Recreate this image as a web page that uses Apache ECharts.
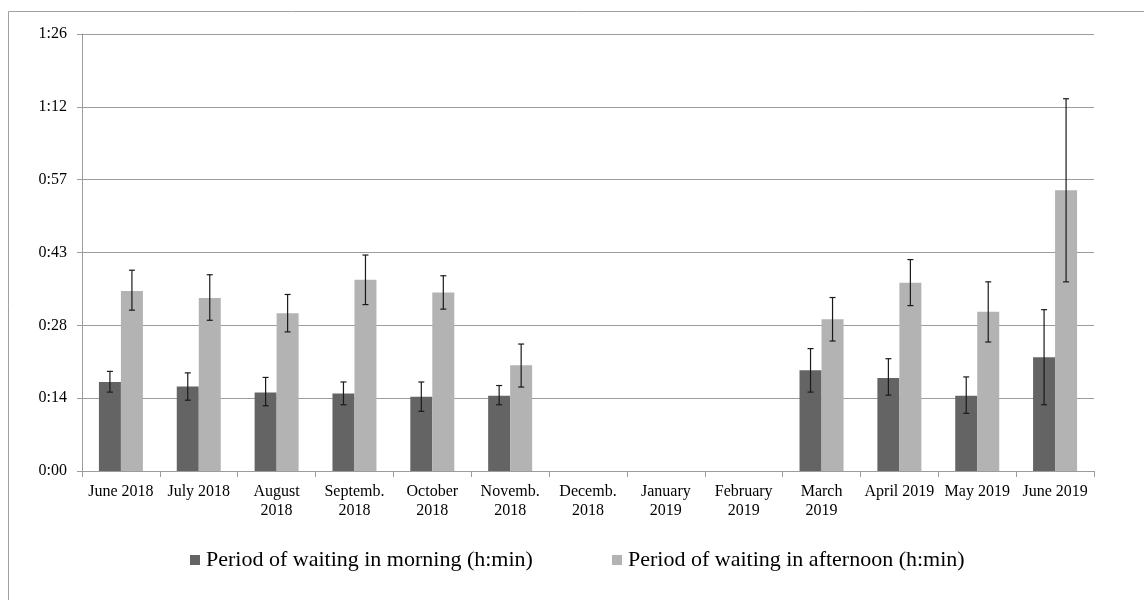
<!DOCTYPE html>
<html>
<head>
<meta charset="utf-8">
<script src="https://cdn.jsdelivr.net/npm/echarts@6/dist/echarts.min.js"></script>
<style>
html,body{margin:0;padding:0;background:#fff;}
#chart{width:1144px;height:600px;}
</style>
</head>
<body>
<div id="chart"></div>
<script>
// Data (values in minutes)
const categories = ['June 2018','July 2018','August\n2018','Septemb.\n2018','October\n2018','Novemb.\n2018','Decemb.\n2018','January\n2019','February\n2019','March\n2019','April 2019','May 2019','June 2019'];
const seriesNames = ['Period of waiting in morning (h:min)','Period of waiting in afternoon (h:min)'];
const morningMean = [17.6, 16.7, 15.5, 15.3, 14.7, 14.9, null, null, null, 19.9, 18.4, 14.9, 22.5];
const morningLow  = [15.6, 14.0, 12.9, 13.1, 11.8, 13.1, null, null, null, 15.6, 15.0, 11.4, 13.1];
const morningHigh = [19.7, 19.4, 18.5, 17.6, 17.6, 16.9, null, null, null, 24.2, 22.2, 18.6, 31.9];
const afternoonMean = [35.6, 34.2, 31.2, 37.8, 35.3, 20.9, null, null, null, 30.0, 37.2, 31.5, 55.5];
const afternoonLow  = [31.8, 29.8, 27.5, 32.9, 32.0, 16.6, null, null, null, 25.7, 32.7, 25.5, 37.4];
const afternoonHigh = [39.7, 38.8, 34.9, 42.7, 38.6, 25.1, null, null, null, 34.3, 41.8, 37.4, 73.6];
const yTickStep = 14.4; // 0.01 day in minutes
const yMax = 86.4;

function errData(lo, hi){
  const out = [];
  lo.forEach((v,i)=>{ if(v!=null && hi[i]!=null) out.push([i, v, hi[i]]); });
  return out;
}
function fmt(v){
  const m = Math.floor(v + 1e-6);
  const h = Math.floor(m/60);
  const mm = m % 60;
  return h + ':' + (mm<10?'0':'') + mm;
}
const BAR_W = 22;
function errRender(offset){
  return function(params, api){
    const c = api.value(0);
    const x = api.coord([c, 0])[0] + offset;
    const yl = api.coord([c, api.value(1)])[1];
    const yh = api.coord([c, api.value(2)])[1];
    const st = {stroke:'#1a1a1a', lineWidth:1.2};
    const cw = 3;
    return {type:'group', children:[
      {type:'line', shape:{x1:x,y1:yl,x2:x,y2:yh}, style:st},
      {type:'line', shape:{x1:x-cw,y1:yh,x2:x+cw,y2:yh}, style:st},
      {type:'line', shape:{x1:x-cw,y1:yl,x2:x+cw,y2:yl}, style:st}
    ]};
  };
}
const font = '"Liberation Serif","Times New Roman",serif';
const chart = echarts.init(document.getElementById('chart'), null, {renderer:'canvas'});
chart.setOption({
  animation:false,
  backgroundColor:'#fff',
  textStyle:{fontFamily:font},
  grid:{left:82, right:50, top:34, bottom:129, containLabel:false},
  legend:[
    {left:185, top:544, itemWidth:10, itemHeight:10, itemGap:5, icon:'rect', data:[seriesNames[0]],
     textStyle:{fontFamily:font, fontSize:22, color:'#000', padding:[0,0,0,1]}},
    {left:607, top:544, itemWidth:10, itemHeight:10, itemGap:5, icon:'rect', data:[seriesNames[1]],
     textStyle:{fontFamily:font, fontSize:22, color:'#000', padding:[0,0,0,1]}}
  ],
  xAxis:{
    type:'category', data:categories,
    axisLine:{lineStyle:{color:'#9c9c9c', width:1}},
    axisTick:{show:true, length:6, lineStyle:{color:'#9c9c9c'}},
    axisLabel:{fontFamily:font, fontSize:16, color:'#000', margin:11, lineHeight:19, interval:0, align:'center'}
  },
  yAxis:{
    type:'value', min:0, max:yMax, interval:yTickStep,
    axisLine:{show:true, lineStyle:{color:'#9c9c9c', width:1}},
    axisTick:{show:true, length:5, lineStyle:{color:'#9c9c9c'}},
    splitLine:{lineStyle:{color:'#9c9c9c', width:1}},
    axisLabel:{fontFamily:font, fontSize:16, color:'#000', margin:15, formatter:fmt}
  },
  graphic:[
    {type:'line', shape:{x1:8.5,y1:11.5,x2:1144,y2:11.5}, style:{stroke:'#a0a0a0', lineWidth:1}},
    {type:'line', shape:{x1:8.5,y1:11.5,x2:8.5,y2:600}, style:{stroke:'#a0a0a0', lineWidth:1}}
  ],
  series:[
    {name:seriesNames[0], type:'bar', data:morningMean, barWidth:BAR_W, barGap:'0%',
     itemStyle:{color:'#646464'}},
    {name:seriesNames[1], type:'bar', data:afternoonMean, barWidth:BAR_W, barGap:'0%',
     itemStyle:{color:'#b3b3b3'}},
    {type:'custom', renderItem:errRender(-BAR_W/2), data:errData(morningLow, morningHigh), encode:{x:0,y:[1,2]}, z:5},
    {type:'custom', renderItem:errRender(BAR_W/2), data:errData(afternoonLow, afternoonHigh), encode:{x:0,y:[1,2]}, z:5}
  ]
});
</script>
</body>
</html>
